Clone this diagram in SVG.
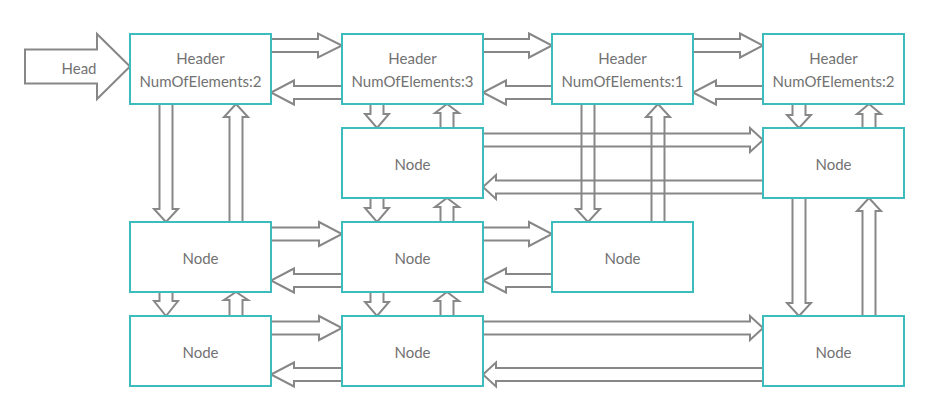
<svg xmlns="http://www.w3.org/2000/svg" width="939" height="414" viewBox="0 0 939 414">
<style>
.box{fill:#fff;stroke:#3cbcbc;stroke-width:2}
.a{fill:none;stroke:#878787;stroke-width:2;stroke-linejoin:miter}
.t{font-family:Lato,"Liberation Sans",sans-serif;font-size:15px;fill:#727272;text-anchor:middle}
</style>
<rect width="939" height="414" fill="#fff"/>
<g id="connectors">
<!-- Head arrow -->
<polygon class="a" points="25,49.5 97,49.5 97,34 130,66.5 97,99 97,83.5 25,83.5"/>
<!-- Row 1 right -->
<polygon class="a" points="271,39 318,39 318,33.5 342,45.5 318,57.5 318,52 271,52"/>
<polygon class="a" points="483,39 529,39 529,33.5 552,45.5 529,57.5 529,52 483,52"/>
<polygon class="a" points="693,39 740,39 740,33.5 763,45.5 740,57.5 740,52 693,52"/>
<!-- Row 1 left -->
<polygon class="a" points="342,86 294,86 294,80.5 271,92.5 294,104.5 294,99 342,99"/>
<polygon class="a" points="552,86 506,86 506,80.5 483,92.5 506,104.5 506,99 552,99"/>
<polygon class="a" points="763,86 716,86 716,80.5 693,92.5 716,104.5 716,99 763,99"/>
<!-- Row 2 long -->
<polygon class="a" points="483,133.5 750,133.5 750,128 763,140 750,152 750,146.5 483,146.5"/>
<polygon class="a" points="763,180.5 496,180.5 496,175 483,187 496,199 496,193.5 763,193.5"/>
<!-- Row 3 -->
<polygon class="a" points="271,227.5 319,227.5 319,222 342,234 319,246 319,240.5 271,240.5"/>
<polygon class="a" points="342,274 294,274 294,268.5 271,280.5 294,292.5 294,287 342,287"/>
<polygon class="a" points="483,227.5 529,227.5 529,222 552,234 529,246 529,240.5 483,240.5"/>
<polygon class="a" points="552,274 506,274 506,268.5 483,280.5 506,292.5 506,287 552,287"/>
<!-- Row 4 -->
<polygon class="a" points="271,321.5 319,321.5 319,316 342,328 319,340 319,334.5 271,334.5"/>
<polygon class="a" points="342,368 294,368 294,362.5 271,374.5 294,386.5 294,381 342,381"/>
<polygon class="a" points="483,321.5 750,321.5 750,316 763,328 750,340 750,334.5 483,334.5"/>
<polygon class="a" points="763,368 496,368 496,362.5 483,374.5 496,386.5 496,381 763,381"/>
<!-- Down arrows -->
<polygon class="a" points="159.5,104 172.5,104 172.5,209 178,209 166,222 154,209 159.5,209"/>
<polygon class="a" points="159.5,292 172.5,292 172.5,301 178,301 166,316 154,301 159.5,301"/>
<polygon class="a" points="370.5,104 383.5,104 383.5,114 389,114 377,128 365,114 370.5,114"/>
<polygon class="a" points="370.5,198 383.5,198 383.5,208 389,208 377,222 365,208 370.5,208"/>
<polygon class="a" points="370.5,292 383.5,292 383.5,302 389,302 377,316 365,302 370.5,302"/>
<polygon class="a" points="581.5,104 594.5,104 594.5,209 600,209 588,222 576,209 581.5,209"/>
<polygon class="a" points="792.5,104 805.5,104 805.5,115 811,115 799,128 787,115 792.5,115"/>
<polygon class="a" points="792.5,198 805.5,198 805.5,303 811,303 799,316 787,303 792.5,303"/>
<!-- Up arrows -->
<polygon class="a" points="229.5,222 229.5,117 224,117 236,104 248,117 242.5,117 242.5,222"/>
<polygon class="a" points="229.5,316 229.5,300 224,300 236,292 248,300 242.5,300 242.5,316"/>
<polygon class="a" points="440.5,128 440.5,113 435,113 447,104 459,113 453.5,113 453.5,128"/>
<polygon class="a" points="440.5,222 440.5,207 435,207 447,198 459,207 453.5,207 453.5,222"/>
<polygon class="a" points="440.5,316 440.5,301 435,301 447,292 459,301 453.5,301 453.5,316"/>
<polygon class="a" points="651.5,222 651.5,117 646,117 658,104 670,117 664.5,117 664.5,222"/>
<polygon class="a" points="862.5,128 862.5,114 857,114 869,104 881,114 875.5,114 875.5,128"/>
<polygon class="a" points="862.5,316 862.5,211 857,211 869,198 881,211 875.5,211 875.5,316"/>
</g>
<text class="t" x="79" y="74">Head</text>
<g id="h1"><rect class="box" x="130" y="34" width="141" height="70"/><text class="t" x="200.5" y="63.5">Header</text><text class="t" x="200.5" y="86.5">NumOfElements:2</text></g>
<g id="h2"><rect class="box" x="342" y="34" width="141" height="70"/><text class="t" x="412.5" y="63.5">Header</text><text class="t" x="412.5" y="86.5">NumOfElements:3</text></g>
<g id="h3"><rect class="box" x="552" y="34" width="141" height="70"/><text class="t" x="622.5" y="63.5">Header</text><text class="t" x="622.5" y="86.5">NumOfElements:1</text></g>
<g id="h4"><rect class="box" x="763" y="34" width="141" height="70"/><text class="t" x="833.5" y="63.5">Header</text><text class="t" x="833.5" y="86.5">NumOfElements:2</text></g>
<g id="n22"><rect class="box" x="342" y="128" width="141" height="70"/><text class="t" x="412.5" y="170">Node</text></g>
<g id="n24"><rect class="box" x="763" y="128" width="141" height="70"/><text class="t" x="833.5" y="170">Node</text></g>
<g id="n31"><rect class="box" x="130" y="222" width="141" height="70"/><text class="t" x="200.5" y="264">Node</text></g>
<g id="n32"><rect class="box" x="342" y="222" width="141" height="70"/><text class="t" x="412.5" y="264">Node</text></g>
<g id="n33"><rect class="box" x="552" y="222" width="141" height="70"/><text class="t" x="622.5" y="264">Node</text></g>
<g id="n41"><rect class="box" x="130" y="316" width="141" height="70"/><text class="t" x="200.5" y="358">Node</text></g>
<g id="n42"><rect class="box" x="342" y="316" width="141" height="70"/><text class="t" x="412.5" y="358">Node</text></g>
<g id="n44"><rect class="box" x="763" y="316" width="141" height="70"/><text class="t" x="833.5" y="358">Node</text></g>
</svg>
